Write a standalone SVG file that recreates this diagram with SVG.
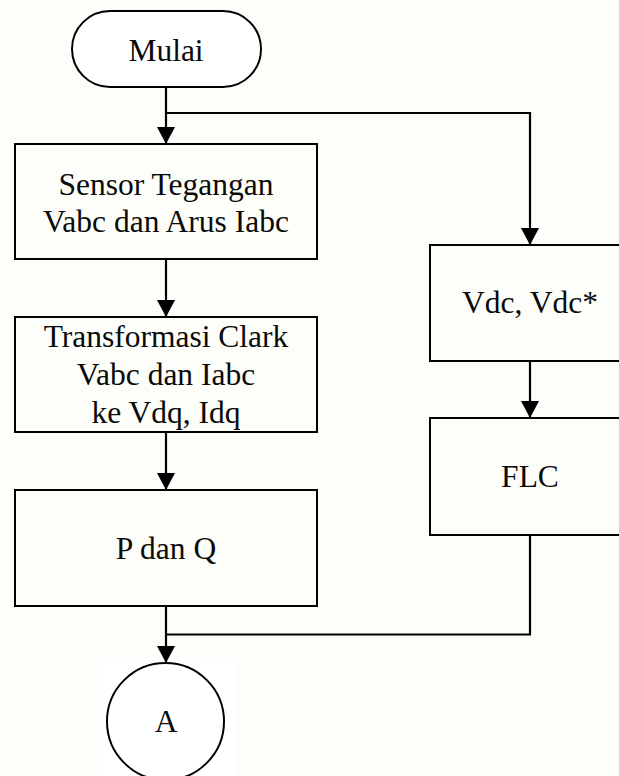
<svg xmlns="http://www.w3.org/2000/svg" width="619" height="776" viewBox="0 0 619 776">
  <defs>
    <marker id="arrow" viewBox="0 0 17 18" refX="17" refY="9" markerWidth="17" markerHeight="18" markerUnits="userSpaceOnUse" orient="auto">
      <path d="M0,0 L17,9 L0,18 z" fill="#000"/>
    </marker>
  </defs>
  <style>
    .box { fill: none; stroke: #000; stroke-width: 2; }
    .term { fill: #fff; stroke: #000; stroke-width: 2; }
    .line { fill: none; stroke: #000; stroke-width: 2.2; }
    .lbl { font-family: "Liberation Serif", "Times New Roman", serif; font-size: 31.5px; fill: #0a0a0a; text-anchor: middle; }
  </style>

  <!-- page background -->
  <rect x="0" y="0" width="619" height="776" fill="#fdfdf9"/>
  <rect x="97" y="658" width="140" height="118" fill="#ffffff"/>

  <!-- connectors -->
  <g id="connectors">
    <path class="line" d="M166,87 L166,144" marker-end="url(#arrow)"/>
    <path class="line" d="M166,113 L530,113 L530,245" marker-end="url(#arrow)"/>
    <path class="line" d="M166,259 L166,317" marker-end="url(#arrow)"/>
    <path class="line" d="M166,432 L166,490" marker-end="url(#arrow)"/>
    <path class="line" d="M530,361 L530,418" marker-end="url(#arrow)"/>
    <path class="line" d="M166,606 L166,663" marker-end="url(#arrow)"/>
    <path class="line" d="M530,535 L530,634.5 L166,634.5"/>
  </g>

  <!-- start terminator -->
  <g id="mulai">
    <rect class="term" x="72" y="11" width="189" height="76" rx="38" ry="38"/>
    <text class="lbl" x="166" y="61">Mulai</text>
  </g>

  <!-- left column -->
  <g id="sensor">
    <rect class="box" x="15" y="144" width="302" height="115"/>
    <text class="lbl" x="166" y="195">Sensor Tegangan</text>
    <text class="lbl" x="166" y="232">Vabc dan Arus Iabc</text>
  </g>

  <g id="clark">
    <rect class="box" x="15" y="317" width="302" height="115"/>
    <text class="lbl" x="166" y="347">Transformasi Clark</text>
    <text class="lbl" x="166" y="385">Vabc dan Iabc</text>
    <text class="lbl" x="166" y="423">ke Vdq, Idq</text>
  </g>

  <g id="pq">
    <rect class="box" x="15" y="490" width="302" height="116"/>
    <text class="lbl" x="166" y="559">P dan Q</text>
  </g>

  <!-- right column -->
  <g id="vdc">
    <rect class="box" x="430" y="245" width="200" height="116"/>
    <text class="lbl" x="530" y="313">Vdc, Vdc*</text>
  </g>

  <g id="flc">
    <rect class="box" x="430" y="418" width="200" height="117"/>
    <text class="lbl" x="530" y="487">FLC</text>
  </g>

  <!-- off-page connector -->
  <g id="connector-a">
    <ellipse class="term" cx="165.5" cy="721.5" rx="58.5" ry="58.5"/>
    <text class="lbl" x="166" y="732">A</text>
  </g>
</svg>
